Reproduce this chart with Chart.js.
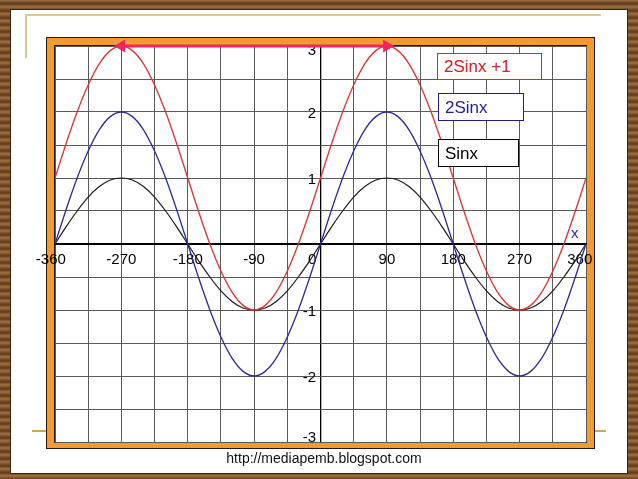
<!DOCTYPE html>
<html>
<head>
<meta charset="utf-8">
<script src="https://cdn.jsdelivr.net/npm/chart.js@4/dist/chart.umd.min.js"></script>
<style>
  html, body { margin: 0; padding: 0; }
  body {
    width: 638px; height: 479px; position: relative; overflow: hidden;
    font-family: "Liberation Sans", Arial, sans-serif;
    background: repeating-linear-gradient(0deg, #6b4423 0px, #8a5c33 2px, #a3723f 3px, #7a4f2a 5px, #5a381c 6px, #6b4423 7px);
  }
  #panel { position: absolute; left: 10px; top: 9px; width: 616px; height: 463px; background: #fff; border: 1px solid #3a2510; }
  .gold { position: absolute; background: #d9c98c; }
  .gold2 { position: absolute; background: #d2a64a; }
  #c { position: absolute; left: 0; top: 0; }
  .lbox { position: absolute; background: #fff; font-size: 17px; line-height: 1; box-sizing: border-box; padding-left: 6px; display: flex; align-items: center; }
  #foot { position: absolute; left: 0; width: 648px; top: 450px; text-align: center; font-size: 14px; color: #111; }
  #xlab { position: absolute; left: 571px; top: 224px; font-size: 15px; color: #2b2bb0; }
</style>
</head>
<body>
<div id="panel"></div>
<div class="gold" style="left:26px;top:14px;width:575px;height:2px;"></div>
<div class="gold" style="left:25px;top:14px;width:2px;height:44px;"></div>
<div class="gold2" style="left:32px;top:430px;width:15px;height:1.5px;"></div>
<div class="gold2" style="left:594px;top:430px;width:12px;height:1.5px;"></div>
<canvas id="c" width="638" height="479"></canvas>
<div class="lbox" style="left:437px;top:53px;width:105px;height:27px;border:1px solid #c8302c;color:#cf2424;">2Sinx +1</div>
<div class="lbox" style="left:438px;top:93px;width:86px;height:28px;border:1px solid #1f1f8a;color:#1f1f9a;">2Sinx</div>
<div class="lbox" style="left:438px;top:139px;width:81px;height:28px;border:1px solid #000;color:#000;">Sinx</div>
<div id="xlab">x</div>
<div id="foot">http://mediapemb.blogspot.com</div>
<script>
const xs = [-360,-345,-330,-315,-300,-285,-270,-255,-240,-225,-210,-195,-180,-165,-150,-135,-120,-105,-90,-75,-60,-45,-30,-15,0,15,30,45,60,75,90,105,120,135,150,165,180,195,210,225,240,255,270,285,300,315,330,345,360];
const sinx = [0,0.26,0.5,0.71,0.87,0.97,1,0.97,0.87,0.71,0.5,0.26,0,-0.26,-0.5,-0.71,-0.87,-0.97,-1,-0.97,-0.87,-0.71,-0.5,-0.26,0,0.26,0.5,0.71,0.87,0.97,1,0.97,0.87,0.71,0.5,0.26,0,-0.26,-0.5,-0.71,-0.87,-0.97,-1,-0.97,-0.87,-0.71,-0.5,-0.26,0];
const twoSinx = [0,0.52,1,1.41,1.73,1.93,2,1.93,1.73,1.41,1,0.52,0,-0.52,-1,-1.41,-1.73,-1.93,-2,-1.93,-1.73,-1.41,-1,-0.52,0,0.52,1,1.41,1.73,1.93,2,1.93,1.73,1.41,1,0.52,0,-0.52,-1,-1.41,-1.73,-1.93,-2,-1.93,-1.73,-1.41,-1,-0.52,0];
const twoSinxPlus1 = [1,1.52,2,2.41,2.73,2.93,3,2.93,2.73,2.41,2,1.52,1,0.48,0,-0.41,-0.73,-0.93,-1,-0.93,-0.73,-0.41,0,0.48,1,1.52,2,2.41,2.73,2.93,3,2.93,2.73,2.41,2,1.52,1,0.48,0,-0.41,-0.73,-0.93,-1,-0.93,-0.73,-0.41,0,0.48,1];
const arrowX = [-270, 90];
const arrowY = [3, 3];
const xTickLabels = [-360,-270,-180,-90,0,90,180,270,360];
const yTickLabels = [-3,-2,-1,1,2,3];

const pts = (ys) => xs.map((x, i) => ({ x: x, y: ys[i] }));

const framePlugin = {
  id: 'frame',
  beforeDraw(chart) {
    const ctx = chart.ctx;
    ctx.save();
    const ox1 = 46.5, oy1 = 37.5, ox2 = 594.5, oy2 = 448.5;
    const ix1 = 55, iy1 = 46, ix2 = 586, iy2 = 442;
    ctx.fillStyle = '#f39b2e';
    ctx.beginPath();
    ctx.rect(ox1, oy1, ox2 - ox1, oy2 - oy1);
    ctx.rect(ix2, iy1, ix1 - ix2, iy2 - iy1);
    ctx.fill('evenodd');
    ctx.strokeStyle = '#1a1a1a';
    ctx.lineWidth = 1;
    ctx.strokeRect(ox1, oy1, ox2 - ox1, oy2 - oy1);
    ctx.strokeRect(ix1 - 0.5, iy1 - 0.5, ix2 - ix1 + 1, iy2 - iy1 + 1);
    ctx.restore();
  }
};

// label text, with trailing padding so a few labels sit left of their grid line as in the original
const xLabelText = (v) => {
  if (!xTickLabels.includes(v)) return '';
  if (v === 0) return '0    ';
  if (v === 360) return '360   ';
  if (v === -360) return '-360  ';
  return String(v);
};

new Chart(document.getElementById('c'), {
  type: 'line',
  data: {
    datasets: [
      { label: '2Sinx +1', data: pts(twoSinxPlus1), borderColor: '#e0302c', borderWidth: 1.3, pointRadius: 0, cubicInterpolationMode: 'monotone', order: 1 },
      { label: '2Sinx', data: pts(twoSinx), borderColor: '#2a2a9c', borderWidth: 1.3, pointRadius: 0, cubicInterpolationMode: 'monotone', order: 2 },
      { label: 'Sinx', data: pts(sinx), borderColor: '#1a1a1a', borderWidth: 1.2, pointRadius: 0, cubicInterpolationMode: 'monotone', order: 3 },
      { label: 'arrow', data: arrowX.map((x, i) => ({ x: x, y: arrowY[i] })), borderColor: '#f2255e', backgroundColor: '#f2255e', borderWidth: 3,
        pointStyle: 'triangle', pointRadius: 4.5, pointRotation: [270, 90], pointBackgroundColor: '#f2255e', pointBorderColor: '#f2255e', clip: false, order: 0 }
    ]
  },
  options: {
    responsive: false,
    animation: false,
    layout: { padding: { left: 55, right: 52, top: 46, bottom: 37 } },
    plugins: { legend: { display: false }, tooltip: { enabled: false } },
    scales: {
      x: {
        type: 'linear', min: -360, max: 360,
        position: { y: 0 },
        ticks: {
          stepSize: 45, autoSkip: false, maxRotation: 0, padding: 7,
          color: '#000', font: { family: 'Liberation Sans', size: 15 },
          callback: xLabelText
        },
        grid: { drawTicks: false, color: (c) => c.tick && c.tick.value === 0 ? '#000' : '#5a5a5a', lineWidth: (c) => c.tick && c.tick.value === 0 ? 1.3 : 1 },
        border: { color: '#000', width: 1.5 }
      },
      y: {
        type: 'linear', min: -3, max: 3,
        position: { x: -6 },
        ticks: {
          stepSize: 0.5, autoSkip: false, padding: 0,
          color: '#000',
          font: (c) => ({ family: 'Liberation Sans', size: 15,
            lineHeight: (c.tick && c.tick.value === 3) ? 0.7 : (c.tick && c.tick.value === -3) ? 0.55 : 0.3 }),
          callback: (v) => v === -3 ? ['-3', ''] : (yTickLabels.includes(v) ? ['', String(v)] : '')
        },
        grid: { drawTicks: false, color: (c) => c.tick && c.tick.value === 0 ? '#000' : '#5a5a5a', lineWidth: 1 },
        border: { display: false }
      }
    }
  },
  plugins: [framePlugin]
});
</script>
</body>
</html>
